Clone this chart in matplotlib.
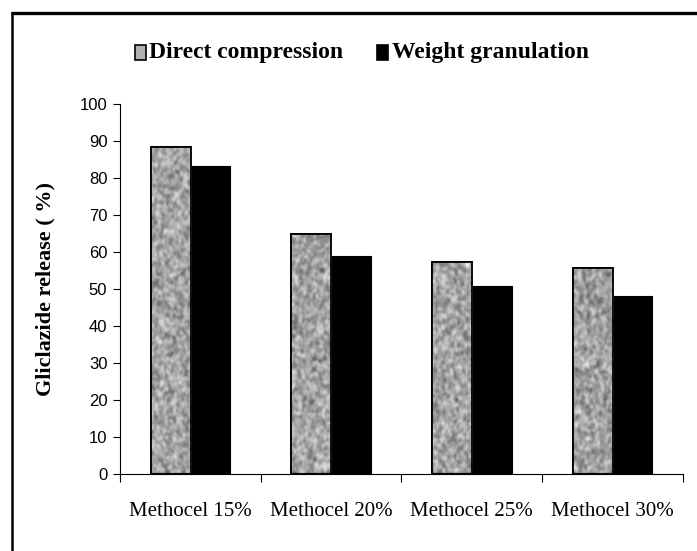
import numpy as np
import matplotlib.pyplot as plt
from matplotlib.patches import Rectangle
from matplotlib.lines import Line2D

categories = ["Methocel 15%", "Methocel 20%", "Methocel 25%", "Methocel 30%"]
direct_compression = [88.5, 65.0, 57.3, 55.7]
wet_granulation = [83.3, 58.8, 50.8, 48.1]
yticks = [0, 10, 20, 30, 40, 50, 60, 70, 80, 90, 100]

serif = "Liberation Serif"
sans = "Liberation Sans"

fig = plt.figure(figsize=(6.97, 5.51), dpi=100)
ax = fig.add_axes([0.172, 0.140, 0.808, 0.671])

x = np.arange(len(categories))
w = 0.285
dc_bars = ax.bar(x - 0.14, direct_compression, w, color="#a8a8a8",
                 edgecolor="black", linewidth=1.3, zorder=2)
wg_bars = ax.bar(x + 0.14, wet_granulation, w, color="black",
                 edgecolor="black", linewidth=0.8, zorder=2)

# grey mottled texture for the direct compression bars
rng = np.random.default_rng(3)
noise = rng.random((260, 520))
k = np.exp(-np.linspace(-2, 2, 7) ** 2)
k /= k.sum()
for axis in (0, 1):
    noise = np.apply_along_axis(lambda v: np.convolve(v, k, mode="same"), axis, noise)
noise = (noise - noise.min()) / (noise.max() - noise.min())
tex = 0.25 + 0.7 * noise
for bar in dc_bars:
    im = ax.imshow(tex, cmap="gray", vmin=0, vmax=1, extent=(-0.5, 3.5, 0, 100),
                   aspect="auto", zorder=2.5, interpolation="bilinear")
    im.set_clip_path(bar)
    ax.add_patch(Rectangle(bar.get_xy(), bar.get_width(), bar.get_height(),
                           fill=False, edgecolor="black", linewidth=1.3, zorder=3))

ax.set_xlim(-0.5, 3.5)
ax.set_ylim(0, 100)
ax.set_yticks(yticks)
ax.set_yticklabels([str(t) for t in yticks], fontfamily=sans, fontsize=12)
ax.set_xticks(np.arange(len(categories) + 1) - 0.5)
ax.set_xticklabels([])
ax.set_xticks(x, minor=True)
ax.set_xticklabels(categories, minor=True, fontfamily=serif, fontsize=15)
ax.tick_params(axis="x", which="minor", length=0, pad=20)
ax.tick_params(axis="x", which="major", length=6, width=0.8, direction="out")
ax.tick_params(axis="y", length=5, width=0.8, pad=4)
for s in ("top", "right"):
    ax.spines[s].set_visible(False)
for s in ("left", "bottom"):
    ax.spines[s].set_linewidth(0.8)

fig.text(0.065, 0.475, "Gliclazide release ( %)", rotation=90, ha="center",
         va="center", fontfamily=serif, fontweight="bold", fontsize=16)

# legend
legend_y = 0.905
fig.patches.append(Rectangle((0.194, legend_y - 0.014), 0.016, 0.027,
                             transform=fig.transFigure, facecolor="#b0b0b0",
                             edgecolor="black", linewidth=1.2))
fig.text(0.214, legend_y, "Direct compression", ha="left", va="center",
         fontfamily=serif, fontweight="bold", fontsize=17)
fig.patches.append(Rectangle((0.541, legend_y - 0.014), 0.016, 0.027,
                             transform=fig.transFigure, facecolor="black",
                             edgecolor="black", linewidth=1.2))
fig.text(0.562, legend_y, "Weight granulation", ha="left", va="center",
         fontfamily=serif, fontweight="bold", fontsize=17)

# outer frame: top and left edges only
fig.lines.append(Line2D([0.0155, 1.0], [0.976, 0.976], transform=fig.transFigure,
                        color="black", linewidth=2.4, solid_capstyle="butt"))
fig.lines.append(Line2D([0.0165, 0.0165], [0.0, 0.978], transform=fig.transFigure,
                        color="black", linewidth=1.8, solid_capstyle="butt"))

fig.savefig("out.png", dpi=100)
